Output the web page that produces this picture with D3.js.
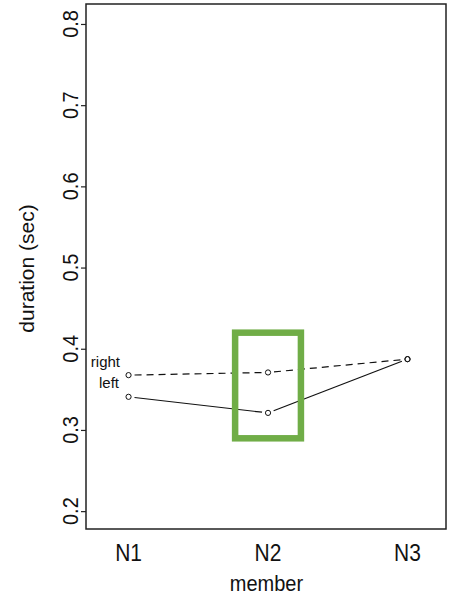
<!DOCTYPE html>
<html>
<head>
<meta charset="utf-8">
<script src="https://cdn.jsdelivr.net/npm/d3@7"></script>
<style>
  html, body { margin: 0; padding: 0; background: #fff; }
  svg text { font-family: "Liberation Sans", Arial, sans-serif; fill: #111; }
</style>
</head>
<body>
<svg id="chart" width="451" height="597"></svg>
<script>
// ---- data ----
const members = ["N1", "N2", "N3"];
const rightValues = [0.3675, 0.3708, 0.3872];
const leftValues  = [0.3408, 0.3210, 0.3872];
const seriesNames = ["right", "left"];
const yTicks = [0.2, 0.3, 0.4, 0.5, 0.6, 0.7, 0.8];
const yTickLabels = ["0.2", "0.3", "0.4", "0.5", "0.6", "0.7", "0.8"];
const xTitle = "member";
const yTitle = "duration (sec)";
const highlightMember = "N2";
const highlightRange = [0.2897, 0.4198];

// ---- layout ----
const svg = d3.select("#chart");
const frame = { left: 86, right: 446, top: 4, bottom: 529 };

const x = d3.scaleLinear().domain([0.695, 3.276]).range([frame.left, frame.right]);
const y = d3.scaleLinear().domain([0.178, 0.8246]).range([frame.bottom, frame.top]);
const xi = (i) => x(i + 1);

// y axis ticks
const yAxis = d3.axisLeft(y).tickValues(yTicks).tickSize(5).tickFormat("");
const gy = svg.append("g").attr("transform", `translate(${frame.left},0)`).call(yAxis);
gy.select(".domain").remove();
gy.selectAll(".tick line").attr("stroke", "#222").attr("stroke-width", 1.2);

svg.append("g").selectAll("text").data(yTicks).join("text")
  .attr("transform", d => `translate(78,${y(d)}) rotate(-90) scale(1,1.08)`)
  .attr("text-anchor", "middle")
  .attr("font-size", 20)
  .text((d, i) => yTickLabels[i]);

// x labels
svg.append("g").selectAll("text").data(members).join("text")
  .attr("transform", (d, i) => `translate(${xi(i)},561) scale(1,1.1)`)
  .attr("text-anchor", "middle")
  .attr("font-size", 21)
  .text(d => d);

svg.append("text")
  .attr("transform", `translate(${(frame.left + frame.right) / 2 + 0.5},591) scale(1,1.08)`)
  .attr("text-anchor", "middle").attr("font-size", 20).text(xTitle);

svg.append("text")
  .attr("transform", `translate(34,${268.5}) rotate(-90)`)
  .attr("text-anchor", "middle").attr("font-size", 21).text(yTitle);

// lines with gaps (type "b")
const gap = 6;
function drawSeries(vals, dash) {
  const pts = vals.map((v, i) => [xi(i), y(v)]);
  for (let i = 0; i < pts.length - 1; i++) {
    const [x0, y0] = pts[i], [x1, y1] = pts[i + 1];
    const dx = x1 - x0, dy = y1 - y0, L = Math.hypot(dx, dy);
    if (L <= 2 * gap) continue;
    const ux = dx / L, uy = dy / L;
    svg.append("line")
      .attr("x1", x0 + ux * gap).attr("y1", y0 + uy * gap)
      .attr("x2", x1 - ux * gap).attr("y2", y1 - uy * gap)
      .attr("stroke", "#111").attr("stroke-width", 1.2)
      .attr("stroke-dasharray", dash);
  }
  svg.append("g").selectAll("circle").data(vals).join("circle")
    .attr("cx", (d, i) => xi(i)).attr("cy", d => y(d)).attr("r", 2.6)
    .attr("fill", "none").attr("stroke", "#111").attr("stroke-width", 1);
}
drawSeries(rightValues, "7,5");
drawSeries(leftValues, null);

// series labels
svg.append("text").attr("x", 120).attr("y", y(rightValues[0]) - 8)
  .attr("text-anchor", "end").attr("font-size", 15).text(seriesNames[0]);
svg.append("text").attr("x", 119).attr("y", y(leftValues[0]) - 9)
  .attr("text-anchor", "end").attr("font-size", 15).text(seriesNames[1]);

// frame
svg.append("rect")
  .attr("x", frame.left).attr("y", frame.top)
  .attr("width", frame.right - frame.left).attr("height", frame.bottom - frame.top)
  .attr("fill", "none").attr("stroke", "#222").attr("stroke-width", 1.5);

// highlight box
const hi = members.indexOf(highlightMember);
svg.append("rect")
  .attr("x", xi(hi) - 32.9).attr("y", y(highlightRange[1]))
  .attr("width", 65.8).attr("height", y(highlightRange[0]) - y(highlightRange[1]))
  .attr("fill", "none").attr("stroke", "#70AD47").attr("stroke-width", 6.5);
</script>
</body>
</html>
